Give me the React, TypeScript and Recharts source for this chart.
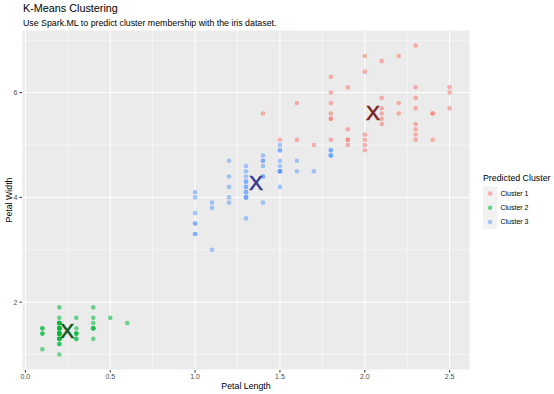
import React from "react";
import {
  ScatterChart,
  Scatter,
  XAxis,
  YAxis,
  CartesianGrid,
  ReferenceLine,
} from "recharts";

// [petal width, petal length] pairs, grouped by predicted cluster
const cluster1: [number, number][] = [
  [2.5, 6.0], [1.9, 5.1], [2.1, 5.9], [1.8, 5.6], [2.2, 5.8], [2.1, 6.6], [1.8, 6.3], [1.8, 5.8],
  [2.5, 6.1], [2.0, 5.1], [1.9, 5.3], [2.1, 5.5], [2.0, 5.0], [2.4, 5.1], [2.3, 5.3], [1.8, 5.5],
  [2.2, 6.7], [2.3, 6.9], [2.3, 5.7], [2.0, 4.9], [2.0, 6.7], [2.1, 5.7], [1.8, 6.0], [2.1, 5.6],
  [1.6, 5.8], [1.9, 6.1], [2.0, 6.4], [2.2, 5.6], [1.5, 5.1], [1.4, 5.6], [2.3, 6.1], [2.4, 5.6],
  [1.8, 5.5], [2.1, 5.4], [2.4, 5.6], [2.3, 5.1], [1.9, 5.1], [2.3, 5.9], [2.5, 5.7], [2.3, 5.2],
  [1.9, 5.0], [2.0, 5.2], [2.3, 5.4], [1.8, 5.1], [1.7, 5.0], [1.6, 5.1],
];

const cluster2: [number, number][] = [
  [0.2, 1.4], [0.2, 1.4], [0.2, 1.3], [0.2, 1.5], [0.2, 1.4], [0.4, 1.7], [0.3, 1.4], [0.2, 1.5],
  [0.2, 1.4], [0.1, 1.5], [0.2, 1.5], [0.2, 1.6], [0.1, 1.4], [0.1, 1.1], [0.2, 1.2], [0.4, 1.5],
  [0.4, 1.3], [0.3, 1.4], [0.3, 1.7], [0.3, 1.5], [0.2, 1.7], [0.4, 1.5], [0.2, 1.0], [0.5, 1.7],
  [0.2, 1.9], [0.2, 1.6], [0.4, 1.6], [0.2, 1.5], [0.2, 1.4], [0.2, 1.6], [0.2, 1.6], [0.4, 1.5],
  [0.1, 1.5], [0.2, 1.4], [0.2, 1.5], [0.2, 1.2], [0.2, 1.3], [0.1, 1.4], [0.2, 1.3], [0.2, 1.5],
  [0.3, 1.3], [0.3, 1.3], [0.2, 1.3], [0.6, 1.6], [0.4, 1.9], [0.3, 1.4], [0.2, 1.6], [0.2, 1.4],
  [0.2, 1.5], [0.2, 1.4],
];

const cluster3: [number, number][] = [
  [1.4, 4.7], [1.5, 4.5], [1.5, 4.9], [1.3, 4.0], [1.5, 4.6], [1.3, 4.5], [1.6, 4.7], [1.0, 3.3],
  [1.3, 4.6], [1.4, 3.9], [1.0, 3.5], [1.5, 4.2], [1.0, 4.0], [1.4, 4.7], [1.3, 3.6], [1.4, 4.4],
  [1.5, 4.5], [1.0, 4.1], [1.5, 4.5], [1.1, 3.9], [1.8, 4.8], [1.3, 4.0], [1.5, 4.9], [1.2, 4.7],
  [1.3, 4.3], [1.4, 4.4], [1.4, 4.8], [1.5, 4.5], [1.0, 3.5], [1.1, 3.8], [1.0, 3.7], [1.2, 3.9],
  [1.5, 4.5], [1.6, 4.5], [1.5, 4.7], [1.3, 4.4], [1.3, 4.1], [1.3, 4.0], [1.2, 4.4], [1.4, 4.6],
  [1.2, 4.0], [1.0, 3.3], [1.3, 4.2], [1.2, 4.2], [1.3, 4.2], [1.3, 4.3], [1.1, 3.0], [1.3, 4.1],
  [1.7, 4.5], [1.5, 5.0], [1.8, 4.9], [1.8, 4.8], [1.8, 4.9], [1.8, 4.8],
];

const clusterNames = ["Cluster 1", "Cluster 2", "Cluster 3"];
const clusterColors = ["#F8766D", "#00BA38", "#619CFF"];
const centroidColors = ["#7A2424", "#0B5A16", "#3A3A94"];
const centroids: [number, number][] = [
  [2.048, 5.626],
  [0.246, 1.462],
  [1.359, 4.293],
];

const xTicks = [0, 0.5, 1, 1.5, 2, 2.5];
const yTicks = [2, 4, 6];
const xMinor = [0.25, 0.75, 1.25, 1.75, 2.25];
const yMinor = [1, 3, 5, 7];

const FONT = "'Liberation Sans', Arial, Helvetica, sans-serif";

const toPoints = (arr: [number, number][]) => arr.map(([x, y]) => ({ x, y }));
const clusters = [cluster1, cluster2, cluster3].map(toPoints);

const dot = (color: string) => (p: any) =>
  <circle cx={p.cx} cy={p.cy} r={2.3} fill={color} fillOpacity={0.55} />;

const cross = (color: string) => (p: any) =>
  (
    <text
      x={p.cx}
      y={p.cy + 7.5}
      textAnchor="middle"
      fontSize={21}
      fontFamily={FONT}
      fill={color}
      stroke={color}
      strokeWidth={0.6}
    >
      X
    </text>
  );

export default function App() {
  return (
    <div style={{ position: "absolute", left: 0, top: 0, width: 554, height: 394 }}>
      <ScatterChart
        width={554}
        height={394}
        margin={{ top: 30, right: 84, bottom: 0, left: 0 }}
        style={{ fontFamily: FONT }}
      >
        <CartesianGrid stroke="#FFFFFF" strokeWidth={1} fill="#EBEBEB" />
        {xMinor.map((v) => (
          <ReferenceLine key={"x" + v} x={v} stroke="#FFFFFF" strokeWidth={0.5} />
        ))}
        {yMinor.map((v) => (
          <ReferenceLine key={"y" + v} y={v} stroke="#FFFFFF" strokeWidth={0.5} />
        ))}
        <XAxis
          type="number"
          dataKey="x"
          domain={[-0.02, 2.62]}
          allowDataOverflow
          ticks={xTicks}
          tickFormatter={(v: number) => v.toFixed(1)}
          height={24}
          tickSize={2.5}
          tickMargin={2}
          axisLine={false}
          tickLine={{ stroke: "#333333" }}
          tick={{ fill: "#4D4D4D", fontSize: 7 }}
        />
        <YAxis
          type="number"
          dataKey="y"
          domain={[0.705, 7.195]}
          allowDataOverflow
          ticks={yTicks}
          width={22}
          tickSize={2.5}
          tickMargin={2}
          axisLine={false}
          tickLine={{ stroke: "#333333" }}
          tick={{ fill: "#4D4D4D", fontSize: 7 }}
        />
        {clusters.map((pts, i) => (
          <Scatter
            key={clusterNames[i]}
            name={clusterNames[i]}
            data={pts}
            shape={dot(clusterColors[i])}
            isAnimationActive={false}
          />
        ))}
        {centroids.map(([x, y], i) => (
          <Scatter
            key={"c" + i}
            data={[{ x, y }]}
            shape={cross(centroidColors[i])}
            isAnimationActive={false}
          />
        ))}
      </ScatterChart>
      <svg
        width={554}
        height={394}
        style={{ position: "absolute", left: 0, top: 0, pointerEvents: "none" }}
        fontFamily={FONT}
      >
        <text x={23} y={11.5} fontSize={10.8} fill="#000">
          K-Means Clustering
        </text>
        <text x={23} y={26} fontSize={8.8} fill="#000">
          Use Spark.ML to predict cluster membership with the iris dataset.
        </text>
        <text x={246} y={388.5} fontSize={8.8} textAnchor="middle" fill="#000">
          Petal Length
        </text>
        <text
          x={11.5}
          y={200}
          fontSize={8.8}
          textAnchor="middle"
          fill="#000"
          transform="rotate(-90 11.5 200)"
        >
          Petal Width
        </text>
        <text x={483} y={181} fontSize={8.8} fill="#000">
          Predicted Cluster
        </text>
        <rect x={483} y={186.5} width={14.2} height={42.6} fill="#F2F2F2" />
        {clusterNames.map((name, i) => (
          <g key={name}>
            <circle
              cx={490.1}
              cy={193.6 + i * 14.2}
              r={2.3}
              fill={clusterColors[i]}
              fillOpacity={0.55}
            />
            <text x={500.5} y={196 + i * 14.2} fontSize={7} fill="#000">
              {name}
            </text>
          </g>
        ))}
      </svg>
    </div>
  );
}
